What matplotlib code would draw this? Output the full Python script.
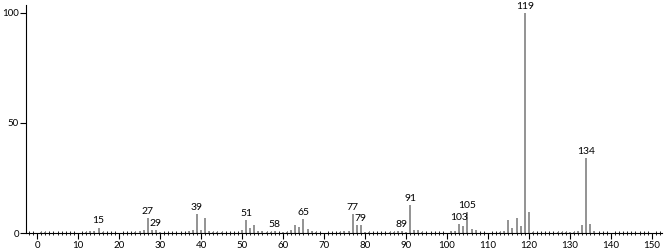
import matplotlib
matplotlib.use("Agg")
import matplotlib.pyplot as plt
from matplotlib.ticker import MultipleLocator

# m/z and relative intensity
mz = [1, 2, 12, 13, 14, 15, 16, 24, 25, 26, 27, 28, 29, 30, 37, 38, 39, 40, 41, 42,
      43, 44, 45, 50, 51, 52, 53, 54, 55, 56, 57, 58, 60, 61, 62, 63, 64, 65, 66, 67,
      68, 74, 75, 76, 77, 78, 79, 80, 81, 86, 87, 88, 89, 90, 91, 92, 93, 94, 101,
      102, 103, 104, 105, 106, 107, 113, 114, 115, 116, 117, 118, 119, 120, 121,
      127, 128, 129, 130, 131, 132, 133, 134, 135, 136]
intensity = [0.5, 0.4, 0.5, 0.8, 0.8, 2.5, 0.6, 0.6, 0.8, 1.5, 6.8, 1.2, 1.5, 0.6,
             1.0, 1.6, 8.6, 1.2, 6.8, 0.8, 0.6, 0.5, 0.4, 1.6, 6.0, 2.5, 3.5, 0.8,
             0.9, 0.5, 0.6, 1.0, 0.5, 0.7, 1.3, 3.5, 2.7, 6.3, 2.0, 0.8, 0.5, 0.6,
             0.8, 1.0, 8.6, 3.6, 3.6, 0.6, 0.5, 0.5, 0.6, 0.8, 1.0, 0.6, 12.7, 1.5,
             1.2, 0.5, 0.8, 1.0, 4.0, 3.0, 9.5, 1.8, 1.5, 0.5, 0.8, 6.0, 2.5, 7.0,
             3.0, 100, 9.5, 0.5, 0.6, 0.6, 0.6, 0.6, 0.6, 0.8, 3.5, 34.0, 4.2, 0.8]
labeled = [15, 27, 29, 39, 51, 58, 65, 77, 79, 89, 91, 103, 105, 119, 134]

plt.rcParams['font.family'] = ['Lato', 'DejaVu Sans']

fig = plt.figure(figsize=(6.67, 2.49), dpi=100, facecolor='white')
ax = fig.add_axes([0.039, 0.064, 0.953, 0.916])

ax.vlines(mz, 0, intensity, color='#8a8a8a', linewidth=1.3)
for m, h in zip(mz, intensity):
    if m in labeled:
        ax.text(m, h + 1.0, str(m), ha='center', va='bottom', fontsize=7.5, color='black')

ax.set_xlim(-2.7, 152.4)
ax.set_ylim(0, 103.6)
ax.spines['top'].set_visible(False)
ax.spines['right'].set_visible(False)
ax.spines['left'].set_linewidth(0.8)
ax.spines['bottom'].set_linewidth(0.8)

ax.xaxis.set_major_locator(MultipleLocator(10))
ax.xaxis.set_minor_locator(MultipleLocator(1))
ax.set_yticks([0, 50, 100])
ax.tick_params(axis='x', which='major', direction='out', length=4, width=0.8, labelsize=7, pad=2)
ax.tick_params(axis='x', which='minor', direction='inout', length=3, width=0.6)
ax.tick_params(axis='y', which='major', direction='out', length=4, width=0.8, labelsize=7, pad=1)

fig.savefig('out.png', dpi=100, facecolor='white')
